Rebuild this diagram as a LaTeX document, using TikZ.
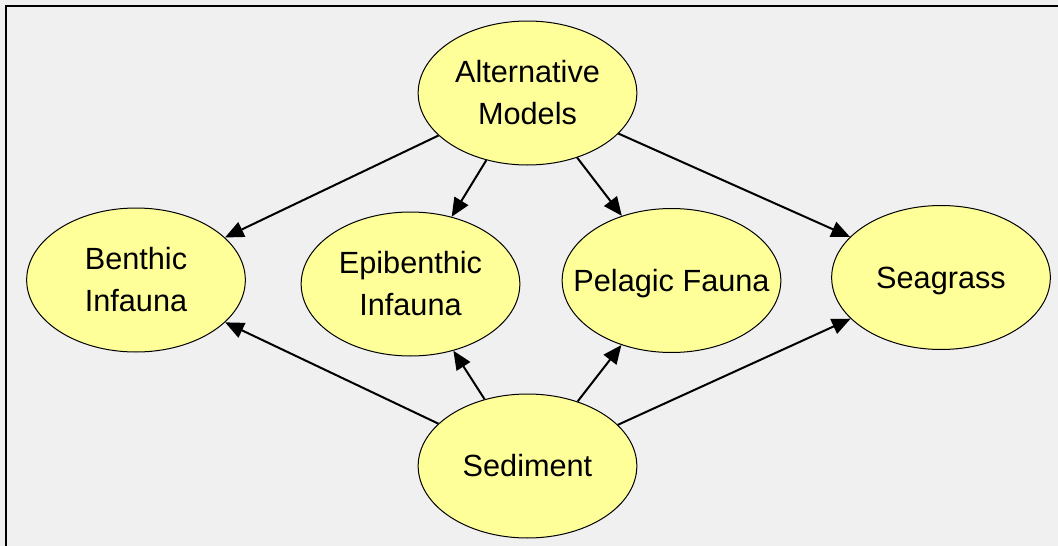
\documentclass[tikz,border=0pt]{standalone}
\usepackage{fontspec}
\setmainfont{Liberation Sans}
\usetikzlibrary{shapes.geometric, arrows.meta}
\definecolor{panelgray}{RGB}{240,240,240}
\definecolor{modelyellow}{RGB}{255,255,153}

\begin{document}
\begin{tikzpicture}[x=0.75pt, y=-0.75pt,
  model/.style={ellipse, draw=black, line width=0.75pt, fill=modelyellow, minimum width=164pt, minimum height=108pt, inner sep=0pt, align=center, font=\fontsize{23}{31.5}\selectfont},
  link/.style={line width=1.5pt, -{Triangle[length=14pt, width=12pt]}}]
% Panel and frame
\useasboundingbox (0,0) rectangle (1058,546);
\fill[panelgray] (0,0) rectangle (1058,546);
\draw[line width=1.5pt] (6,546) -- (6,6) -- (1058,6);

% Model nodes
\node[model] (alt) at (527.5,93) {Alternative\\Models};
\node[model] (benthic) at (136,280) {Benthic\\Infauna};
\node[model] (epi) at (410.5,284) {Epibenthic\\Infauna};
\node[model, inner xsep=-17pt, text depth=0pt] (pelagic) at (671.5,280.5) {Pelagic Fauna};
\node[model, text depth=0pt] (seagrass) at (941,277.5) {Seagrass};
\node[model] (sediment) at (527.5,466) {Sediment};

% Links from the top
\draw[link] (alt) -- (benthic);
\draw[link] (alt) -- (epi);
\draw[link] (alt) -- (pelagic);
\draw[link] (alt) -- (seagrass);

% Links from the bottom
\draw[link] (sediment) -- (benthic);
\draw[link] (sediment) -- (epi);
\draw[link] (sediment) -- (pelagic);
\draw[link] (sediment) -- (seagrass);
\end{tikzpicture}
\end{document}
